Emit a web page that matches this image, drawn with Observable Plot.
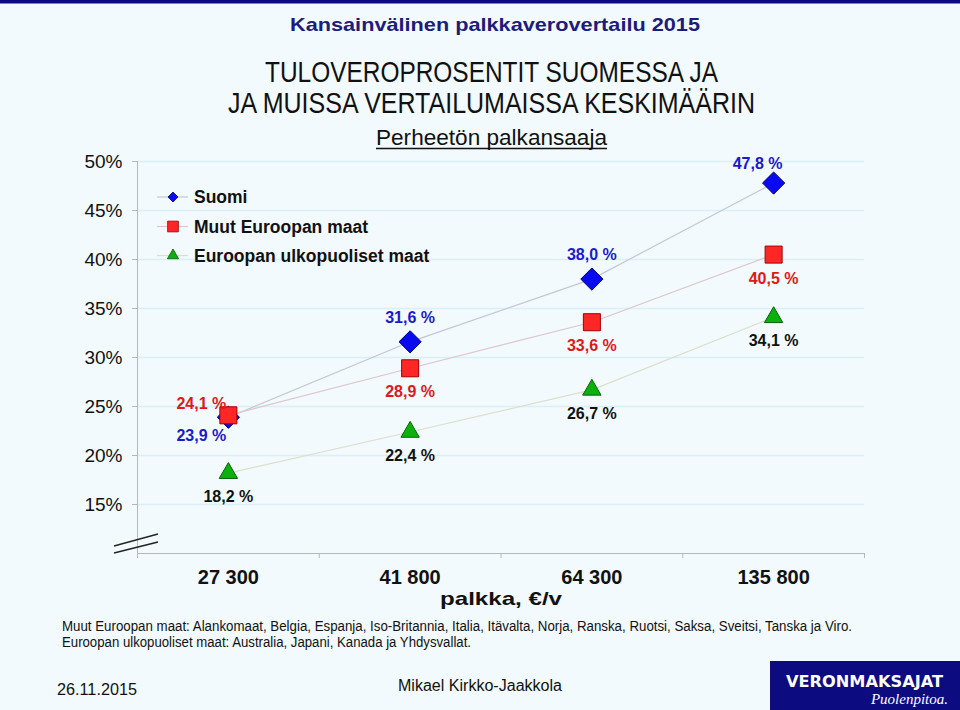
<!DOCTYPE html>
<html><head><meta charset="utf-8">
<script src="https://cdn.jsdelivr.net/npm/d3@7"></script>
<script src="https://cdn.jsdelivr.net/npm/@observablehq/plot@0.6"></script>
<style>
body{margin:0;background:#f2fafd;}
#page{position:relative;width:960px;height:710px;background:#f2fafd;overflow:hidden;font-family:"Liberation Sans",Arial,sans-serif;}
#page svg{position:absolute;left:0;top:0;}
</style></head><body><div id="page"></div>
<script>
// ---- data ----
const categories = ["27 300", "41 800", "64 300", "135 800"];
const seriesNames = ["Suomi", "Muut Euroopan maat", "Euroopan ulkopuoliset maat"];
const suomi = [23.9, 31.6, 38.0, 47.8];
const muutEurooppa = [24.1, 28.9, 33.6, 40.5];
const ulkopuoliset = [18.2, 22.4, 26.7, 34.1];
const yTicks = [15, 20, 25, 30, 35, 40, 45, 50];
const yDomain = [10, 50];

const titleTop = "Kansainvälinen palkkaverovertailu 2015";
const title1 = "TULOVEROPROSENTIT SUOMESSA JA";
const title2 = "JA MUISSA VERTAILUMAISSA KESKIMÄÄRIN";
const subtitle = "Perheetön palkansaaja";
const xLabel = "palkka, €/v";
const note1 = "Muut Euroopan maat: Alankomaat, Belgia, Espanja, Iso-Britannia, Italia, Itävalta, Norja, Ranska, Ruotsi, Saksa, Sveitsi, Tanska ja Viro.";
const note2 = "Euroopan ulkopuoliset maat: Australia, Japani, Kanada ja Yhdysvallat.";
const dateText = "26.11.2015";
const author = "Mikael Kirkko-Jaakkola";

// ---- build ----
const valuesBySeries = [suomi, muutEurooppa, ulkopuoliset];
const rows = valuesBySeries.flatMap((vals, s) =>
  vals.map((v, i) => ({series: seriesNames[s], s, i, cat: categories[i], value: v})));
const fmt = v => v.toFixed(1).replace(".", ",") + " %";
const xi = d => d.i + 0.5;

const lineColors = ["#c4c6d4", "#dcc6cc", "#dcdfca"];
const fills = ["#0a0af0", "#ff2626", "#0cb20c"];
const strokes = ["#00007a", "#a00000", "#066006"];
const symbols = ["diamond2", "square", "triangle"];
const radii = [10, 9.6, 6.8];
const labelColors = ["#1a1acc", "#e01818", "#111111"];

const S = s => rows.filter(d => d.s === s);

const marks = [
  Plot.ruleY(yTicks, {y: d => d, stroke: "#d9f0f9", strokeWidth: 1.5}),
  Plot.ruleY([yDomain[0]], {y: d => d, stroke: "#b8b8b8"}),
  Plot.ruleX([0], {x: d => d, stroke: "#b8b8b8"}),
  Plot.axisY(yTicks, {tickSize: 5, tickFormat: () => "", stroke: "#b8b8b8", label: null}),
  Plot.axisX(d3.range(categories.length + 1), {tickSize: 5, tickFormat: () => "", stroke: "#b8b8b8", label: null}),
  Plot.text(yTicks, {x: 0, y: d => d, text: d => d + "%", textAnchor: "end", dx: -15, fontSize: 19, fill: "#111"}),
  Plot.text(categories, {x: (d, i) => i + 0.5, y: yDomain[0], text: d => d, dy: 24, fontSize: 20, fontWeight: "bold", fill: "#111"}),
];
// lines
[0, 1, 2].forEach(s => marks.push(Plot.line(S(s), {x: xi, y: "value", stroke: lineColors[s], strokeWidth: 1.2})));
// markers
[0, 1, 2].forEach(s => marks.push(Plot.dot(S(s), {x: xi, y: "value", symbol: () => symbols[s], r: radii[s], fill: fills[s], stroke: strokes[s], strokeWidth: 1})));
// labels
const lab = (data, s, dx, dy) => Plot.text(data, {x: xi, y: "value", text: d => fmt(d.value), dx, dy, fill: labelColors[s], fontSize: 16, fontWeight: "bold"});
marks.push(lab(S(0).filter(d => d.i === 0), 0, -27, 19));
marks.push(lab(S(0).filter(d => d.i === 1 || d.i === 2), 0, 0, -24));
marks.push(lab(S(0).filter(d => d.i === 3), 0, -16, -19));
marks.push(lab(S(1).filter(d => d.i === 0), 1, -27, -11));
marks.push(lab(S(1).filter(d => d.i > 0), 1, 0, 24));
marks.push(lab(S(2), 2, 0, 24));

const chart = Plot.plot({
  width: 960, height: 710,
  marginTop: 161, marginBottom: 157, marginLeft: 137, marginRight: 96,
  x: {type: "linear", domain: [0, categories.length]},
  y: {type: "linear", domain: yDomain},
  style: {background: "transparent", fontFamily: "'Liberation Sans', Arial, sans-serif", color: "#111", overflow: "visible"},
  marks
});
document.getElementById("page").appendChild(chart);

// ---- annotations ----
const svg = d3.select("#page").append("svg").attr("width", 960).attr("height", 710).style("pointer-events", "none");
svg.append("rect").attr("x", 0).attr("y", 0).attr("width", 960).attr("height", 3.5).attr("fill", "#0b0b7e");
function txt(str, x, y, o = {}) {
  const t = svg.append("text").attr("x", x).attr("y", y).text(str)
    .attr("font-family", o.family || "'Liberation Sans', Arial, sans-serif")
    .attr("font-size", o.size || 16).attr("font-weight", o.weight || "normal")
    .attr("font-style", o.style || "normal")
    .attr("fill", o.fill || "#111").attr("text-anchor", o.anchor || "start");
  if (o.len) t.attr("textLength", o.len).attr("lengthAdjust", "spacingAndGlyphs");
  return t;
}
txt(titleTop, 290, 31, {size: 19, weight: "bold", fill: "#1c1c7c", len: 410});
txt(title1, 265, 82, {size: 29, len: 453});
txt(title2, 228, 113, {size: 29, len: 527});
txt(subtitle, 376, 145, {size: 22, len: 231});
svg.append("line").attr("x1", 376).attr("x2", 607).attr("y1", 148.5).attr("y2", 148.5).attr("stroke", "#111").attr("stroke-width", 1.5);
txt(xLabel, 440, 605, {size: 19, weight: "bold", len: 122});
txt(note1, 62, 631, {size: 14, len: 790});
txt(note2, 62, 647, {size: 14, len: 409});
txt(dateText, 57, 695, {size: 16, len: 80});
txt(author, 398, 691, {size: 16, len: 164});
svg.append("rect").attr("x", 770).attr("y", 661).attr("width", 190).attr("height", 49).attr("fill", "#0c0c80");
txt("VERONMAKSAJAT", 786, 687, {size: 15, weight: "bold", fill: "#fff", family: "'DejaVu Sans', sans-serif", len: 157});
txt("Puolenpitoa.", 948, 704, {size: 15, style: "italic", fill: "#fff", family: "'Liberation Serif', serif", anchor: "end"});

// break marks
[[546, 534], [553, 542]].forEach(([y1, y2]) =>
  svg.append("line").attr("x1", 114).attr("y1", y1).attr("x2", 158).attr("y2", y2).attr("stroke", "#222").attr("stroke-width", 1.3));

// legend
const legendY = [197, 226.5, 255.5];
const legendSymbols = [d3.symbolDiamond2, d3.symbolSquare, d3.symbolTriangle];
const legendSizes = [64, 115, 55];
seriesNames.forEach((name, s) => {
  const y = legendY[s];
  svg.append("line").attr("x1", 157).attr("x2", 188).attr("y1", y).attr("y2", y).attr("stroke", lineColors[s]).attr("stroke-width", 1.2);
  svg.append("path").attr("d", d3.symbol(legendSymbols[s], legendSizes[s])()).attr("transform", `translate(173,${y})`)
    .attr("fill", fills[s]).attr("stroke", strokes[s]).attr("stroke-width", 0.8);
  txt(name, 194, y + 6, {size: 17.5, weight: "bold"});
});
</script></body></html>
